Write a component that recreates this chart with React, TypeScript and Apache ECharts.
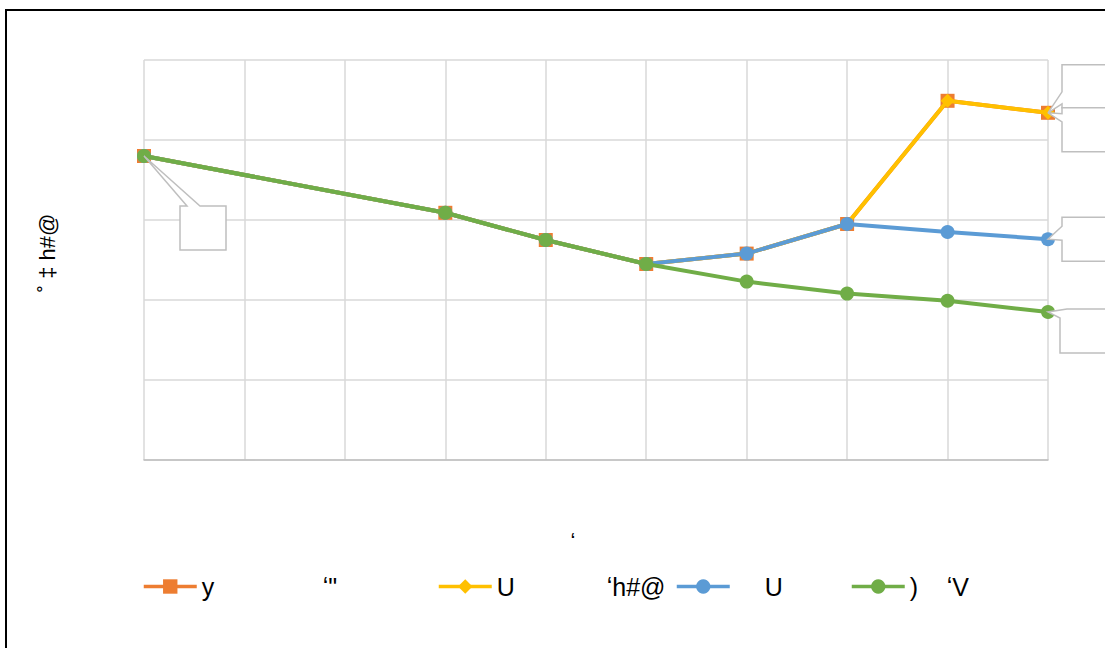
import React, { useEffect, useRef } from 'react';
import * as echarts from 'echarts';

// Chart data
const categories = ['1', '2', '3', '4', '5', '6', '7', '8', '9', '10'];
const orangeValues = [38, null, null, 30.9, 27.5, 24.5, 25.8, 29.5, 44.9, 43.4];
const yellowValues = [38, null, null, 30.9, 27.5, 24.5, 25.8, 29.5, 44.9, 43.4];
const blueValues = [38, null, null, 30.9, 27.5, 24.5, 25.8, 29.5, 28.5, 27.6];
const greenValues = [38, null, null, 30.9, 27.5, 24.5, 22.3, 20.8, 19.9, 18.5];
const yMin = 0;
const yMax = 50;
const yInterval = 10;

// Text
const legendHeads = ['y', 'U', '', ')'];
const legendTails = ['ʻ"', 'ʻh#@', 'U', 'ʻV'];
const yAxisTitle = '˚ ‡ h#@';
const xAxisTitle = 'ʻ';

const FONT = "'Liberation Sans Narrow', 'Liberation Sans', Arial, sans-serif";

const seriesDefs = [
  { values: orangeValues, color: '#ED7D31', symbol: 'rect', size: 14 },
  { values: yellowValues, color: '#FFC000', symbol: 'diamond', size: 14 },
  { values: blueValues, color: '#5B9BD5', symbol: 'circle', size: 14 },
  { values: greenValues, color: '#70AD47', symbol: 'circle', size: 14 },
];
const seriesNames = legendHeads.map((h, i) => `${h} ${legendTails[i]}`);

// Legend placement and spacing between the two parts of each entry
const legendLefts = [137, 432, 670, 845];
const legendHeadWidths = [121, 110, 30, 37];

// Callout outlines relative to the anchored point
const callouts = [
  { series: 3, index: 0, pts: [[36, 50], [43, 50], [0, 0], [56, 50], [82, 50], [82, 94], [36, 94]] },
  { series: 0, index: 9, pts: [[14, -48], [60, -48], [60, -5], [14, -5], [14, -9], [0, 0], [14, -21]] },
  { series: 1, index: 9, pts: [[14, -5], [60, -5], [60, 39], [14, 39], [14, 9], [0, 0], [14, 1]] },
  { series: 2, index: 9, pts: [[14, -22], [60, -22], [60, 22], [14, 22], [14, 1], [0, 0], [14, -13]] },
  { series: 3, index: 9, pts: [[19, -3], [58, -3], [58, 41], [12, 41], [12, 6], [0, 0]] },
];

export default function App() {
  const ref = useRef<HTMLDivElement>(null);

  useEffect(() => {
    if (!ref.current) return;
    const chart = echarts.init(ref.current, null, { renderer: 'svg' });

    const legends = seriesNames.map((name, i) => ({
      data: [name],
      left: legendLefts[i],
      top: 569,
      itemWidth: 53,
      itemHeight: 18,
      lineStyle: { width: 3.5 },
      formatter: () => `{a|${legendHeads[i]}}{b|${legendTails[i]}}`,
      textStyle: {
        fontFamily: FONT,
        fontSize: 25,
        color: '#000',
        rich: {
          a: { width: legendHeadWidths[i], fontFamily: FONT, fontSize: 25, color: '#000' },
          b: { fontFamily: FONT, fontSize: 25, color: '#000' },
        },
      },
    }));

    chart.setOption({
      animation: false,
      backgroundColor: '#fff',
      grid: { left: 144, right: 57, top: 60, bottom: 188, containLabel: false },
      legend: legends,
      xAxis: {
        type: 'category',
        data: categories,
        boundaryGap: false,
        name: xAxisTitle,
        nameLocation: 'middle',
        nameGap: 70,
        nameTextStyle: { fontFamily: FONT, fontSize: 22, color: '#000', padding: [0, 46, 0, 0] },
        axisLabel: { show: false },
        axisTick: { show: false },
        axisLine: { show: true, lineStyle: { color: '#bfbfbf', width: 1.5 } },
        splitLine: { show: true, lineStyle: { color: '#d9d9d9', width: 1.5 } },
      },
      yAxis: {
        type: 'value',
        min: yMin,
        max: yMax,
        interval: yInterval,
        name: yAxisTitle,
        nameLocation: 'middle',
        nameGap: 86,
        nameRotate: 90,
        nameTextStyle: { fontFamily: FONT, fontSize: 22, color: '#000', padding: [0, 0, 0, 14] },
        axisLabel: { show: false },
        axisTick: { show: false },
        axisLine: { show: false },
        splitLine: { show: true, lineStyle: { color: '#d9d9d9', width: 1.5 } },
      },
      series: seriesDefs.map((s, i) => ({
        name: seriesNames[i],
        type: 'line',
        data: s.values,
        connectNulls: true,
        symbol: s.symbol,
        symbolSize: s.size,
        showAllSymbol: true,
        lineStyle: { color: s.color, width: 4 },
        itemStyle: { color: s.color },
        emphasis: { disabled: true },
        z: 2 + i,
      })),
    });

    const graphics: any[] = callouts.map((c) => {
      const val = seriesDefs[c.series].values[c.index] as number;
      const [px, py] = chart.convertToPixel({ gridIndex: 0 }, [c.index, val]) as number[];
      return {
        type: 'polygon',
        z: 50,
        shape: { points: c.pts.map(([dx, dy]) => [px + dx, py + dy]) },
        style: { fill: '#fff', stroke: '#bfbfbf', lineWidth: 1.5 },
      };
    });
    graphics.push({
      type: 'rect',
      z: 60,
      shape: { x: 6, y: 10, width: 1200, height: 700 },
      style: { fill: 'none', stroke: '#000', lineWidth: 2 },
    });
    chart.setOption({ graphic: graphics });

    return () => chart.dispose();
  }, []);

  return (
    <div
      ref={ref}
      style={{ position: 'fixed', left: 0, top: 0, width: 1105, height: 648 }}
    />
  );
}
